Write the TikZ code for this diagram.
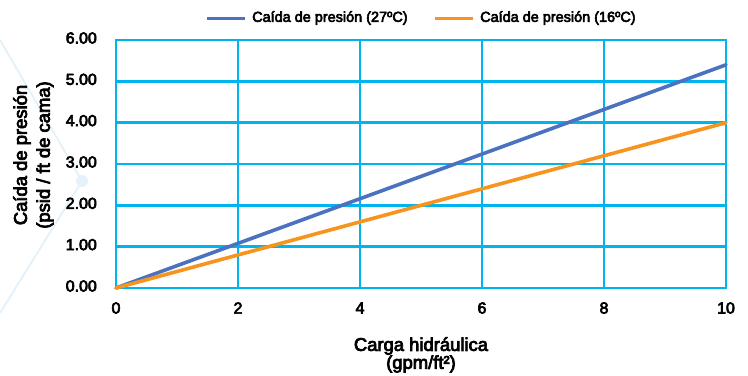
\documentclass[tikz,border=0pt]{standalone}
\usepackage{fontspec}
\newfontfamily\chartfont{Liberation Sans}[FakeBold=4]
\definecolor{gridblue}{HTML}{00B4EE}
\definecolor{seriesblue}{HTML}{4B72BE}
\definecolor{seriesorange}{HTML}{F7941D}
\definecolor{decoblue}{HTML}{E6F2F9}

\begin{document}
\begin{tikzpicture}[x=1bp, y=-1bp,
    grid/.style = {draw=gridblue, line width=2.8bp, line cap=rect},
    series/.style = {line width=3.6bp, line cap=round},
    keyline/.style = {line width=3bp},
    tick/.style = {font=\chartfont\fontsize{16}{16}\selectfont, inner sep=0pt},
    legend/.style = {font=\chartfont\fontsize{14.5}{14.5}\selectfont, inner sep=0pt, anchor=west},
    axtitle/.style = {font=\chartfont\fontsize{18.5}{18.5}\selectfont, inner sep=0pt}]

    \useasboundingbox (0,0) rectangle (748,375);

    % Background
    \coordinate (d0) at (0,40);
    \coordinate (d1) at (82,181);
    \coordinate (d2) at (0,313);
    \draw[decoblue, line width=2bp] (d0) -- (d1) -- (d2);
    \fill[decoblue] (d1) circle (6);

    % Grid
    \foreach \i in {0,...,6}
        \draw[grid] (116,{288-41.333*\i}) -- (726,{288-41.333*\i});
    \foreach \i in {0,...,5}
        \draw[grid] ({116+122*\i},40) -- ({116+122*\i},288);

    % Tick labels
    \foreach \i in {0,...,6}
        \node[tick, anchor=east] (ylab\i) at (97,{286-41.333*\i}) {\i.00};
    \foreach \x in {0,2,...,10}
        \node[tick] (xlab\x) at ({116+61*\x},308) {\x};

    % Axis titles
    \node[axtitle, rotate=90] (ytitleA) at (22,155) {Caída de presión};
    \node[axtitle, rotate=90] (ytitleB) at (45,155) {(psid / ft de cama)};
    \node[axtitle] (xtitleA) at (421,346) {Carga hidráulica};
    \node[axtitle] (xtitleB) at (421,364) {(gpm/ft²)};

    % Series
    \coordinate (origin) at (116,288);
    \coordinate (warmend) at (726,64.8);
    \coordinate (coldend) at (726,122.7);
    \draw[series, seriesblue] (origin) -- (warmend);
    \draw[series, seriesorange] (origin) -- (coldend);

    % Legend
    \coordinate (keyA1) at (207,18);
    \coordinate (keyA2) at (245,18);
    \coordinate (keyB1) at (435,18);
    \coordinate (keyB2) at (473,18);
    \draw[keyline, seriesblue] (keyA1) -- (keyA2);
    \draw[keyline, seriesorange] (keyB1) -- (keyB2);
    \node[legend] (legA) at (252,18) {Caída de presión (27ºC)};
    \node[legend] (legB) at (480,18) {Caída de presión (16ºC)};
\end{tikzpicture}
\end{document}
